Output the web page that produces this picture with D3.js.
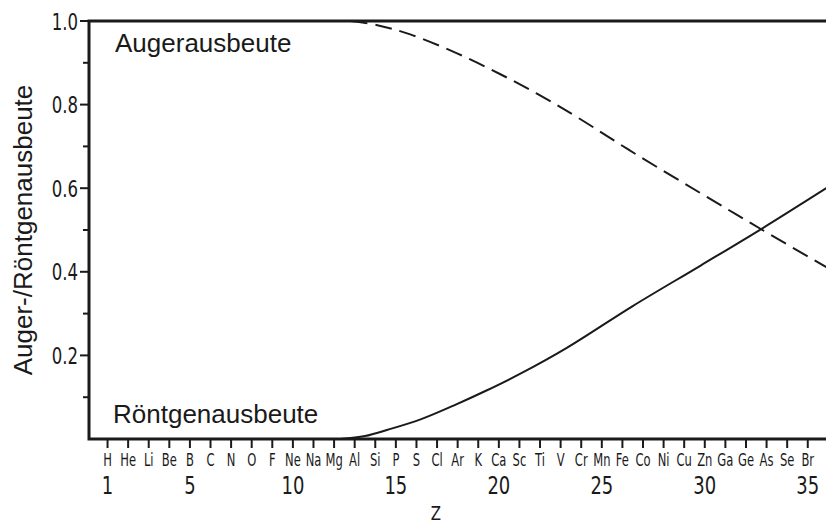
<!DOCTYPE html>
<html>
<head>
<meta charset="utf-8">
<script src="https://cdn.jsdelivr.net/npm/d3@7"></script>
<style>
  body { margin: 0; background: #fff; }
  svg { display: block; }
  .cond { font-family: "DejaVu Sans", sans-serif; fill: #1a1a1a; }
  .sans { font-family: "Liberation Sans", Arial, sans-serif; fill: #1a1a1a; }
</style>
</head>
<body>
<svg id="chart"></svg>
<script>
var elements = ['H', 'He', 'Li', 'Be', 'B', 'C', 'N', 'O', 'F', 'Ne', 'Na', 'Mg', 'Al', 'Si', 'P', 'S', 'Cl', 'Ar',
  'K', 'Ca', 'Sc', 'Ti', 'V', 'Cr', 'Mn', 'Fe', 'Co', 'Ni', 'Cu', 'Zn', 'Ga', 'Ge', 'As', 'Se', 'Br'];
var zTicks = [1, 5, 10, 15, 20, 25, 30, 35];
var yTicks = [0.2, 0.4, 0.6, 0.8, 1.0];
var yMinorTicks = [0.1, 0.3, 0.5, 0.7, 0.9];

// Röntgenausbeute (solid)
var xrayZ = [12.3, 13.5, 14.6, 16.2, 17.8, 19.4, 21.0, 23.3, 26.5, 29.8, 32.8, 35.9];
var xrayY = [0, 0.007, 0.022, 0.047, 0.080, 0.116, 0.155, 0.218, 0.318, 0.415, 0.504, 0.600];
// Augerausbeute (dashed)
var augerZ = [12.8, 14.1, 15.7, 18.0, 20.1, 22.0, 23.8, 26.5, 29.8, 32.8, 35.9];
var augerY = [1.0, 0.990, 0.968, 0.922, 0.872, 0.822, 0.770, 0.686, 0.588, 0.500, 0.411];

var width = 826, height = 524;
var svg = d3.select('#chart').attr('width', width).attr('height', height);

var x = d3.scaleLinear().domain([0.1, 35.9]).range([89, 826.3]);
var y = d3.scaleLinear().domain([0, 1]).range([439, 21]);

var line = d3.line()
  .x(function(d) { return x(d[0]); })
  .y(function(d) { return y(d[1]); })
  .curve(d3.curveCatmullRom);

// narrow lettering like the original stencil font
function narrow(sel, sx) {
  sel.attr('transform', function() {
    var t = d3.select(this);
    return 'translate(' + t.attr('data-x') + ',' + t.attr('data-y') + ') scale(' + sx + ',1)';
  });
}

// Frame (left, bottom, top)
svg.append('path')
  .attr('d', 'M' + x(35.9) + ',' + y(1) + 'H' + x(0.1) + 'V' + y(0) + 'H' + x(35.9))
  .attr('fill', 'none')
  .attr('stroke', '#1a1a1a')
  .attr('stroke-width', 3);

// Y ticks
svg.selectAll('.ymaj').data(yTicks).enter().append('line')
  .attr('x1', 80).attr('x2', 89)
  .attr('y1', function(d) { return y(d); }).attr('y2', function(d) { return y(d); })
  .attr('stroke', '#1a1a1a').attr('stroke-width', 2);
svg.selectAll('.ymin').data(yMinorTicks).enter().append('line')
  .attr('x1', 83).attr('x2', 89)
  .attr('y1', function(d) { return y(d); }).attr('y2', function(d) { return y(d); })
  .attr('stroke', '#1a1a1a').attr('stroke-width', 2);
svg.selectAll('.ylab').data(yTicks).enter().append('text')
  .attr('class', 'cond')
  .attr('data-x', 78)
  .attr('data-y', function(d) { return y(d) + 8.5; })
  .attr('text-anchor', 'end')
  .attr('font-size', 23)
  .text(function(d) { return d.toFixed(1); })
  .call(narrow, 0.72);

// X ticks + element labels
svg.selectAll('.xt').data(elements).enter().append('line')
  .attr('x1', function(d, i) { return x(i + 1); }).attr('x2', function(d, i) { return x(i + 1); })
  .attr('y1', 439).attr('y2', 448)
  .attr('stroke', '#1a1a1a').attr('stroke-width', 2);
svg.selectAll('.el').data(elements).enter().append('text')
  .attr('class', 'cond')
  .attr('data-x', function(d, i) { return x(i + 1); })
  .attr('data-y', 466)
  .attr('text-anchor', 'middle')
  .attr('font-size', 17)
  .text(function(d) { return d; })
  .call(narrow, 0.68);
svg.selectAll('.zl').data(zTicks).enter().append('text')
  .attr('class', 'cond')
  .attr('data-x', function(d) { return x(d); })
  .attr('data-y', 494)
  .attr('text-anchor', 'middle')
  .attr('font-size', 25)
  .text(function(d) { return d; })
  .call(narrow, 0.72);

svg.append('text').attr('class', 'cond')
  .attr('data-x', 436).attr('data-y', 520)
  .attr('text-anchor', 'middle')
  .attr('font-size', 20)
  .text('Z')
  .call(narrow, 0.75);

// Curves
svg.append('path')
  .datum(d3.zip(xrayZ, xrayY))
  .attr('d', line)
  .attr('fill', 'none').attr('stroke', '#1a1a1a').attr('stroke-width', 2);
svg.append('path')
  .datum(d3.zip(augerZ, augerY))
  .attr('d', line)
  .attr('fill', 'none').attr('stroke', '#1a1a1a').attr('stroke-width', 2)
  .attr('stroke-dasharray', '17,8');

// Labels
svg.append('text').attr('class', 'sans')
  .attr('x', 115).attr('y', 52).attr('font-size', 26)
  .text('Augerausbeute');
svg.append('text').attr('class', 'sans')
  .attr('x', 113).attr('y', 423).attr('font-size', 26)
  .text('Röntgenausbeute');
svg.append('text').attr('class', 'sans')
  .attr('transform', 'translate(32,230) rotate(-90)')
  .attr('text-anchor', 'middle')
  .attr('font-size', 26)
  .text('Auger-/Röntgenausbeute');
</script>
</body>
</html>
